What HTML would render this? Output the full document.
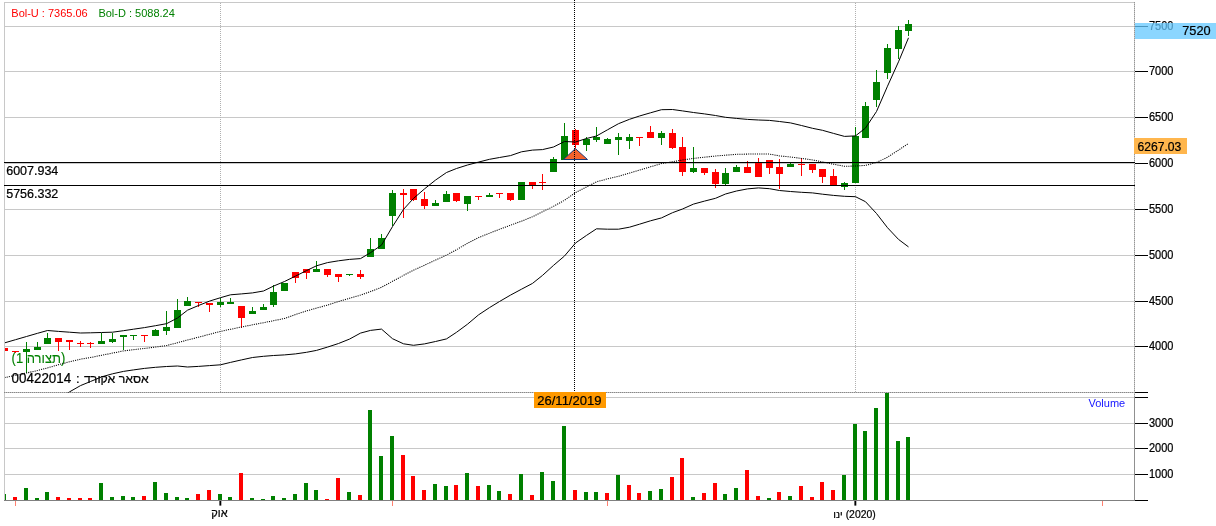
<!DOCTYPE html>
<html lang="he"><head><meta charset="utf-8"><title>Chart</title>
<style>
html,body{margin:0;padding:0;background:#fff;}
body{width:1216px;height:526px;overflow:hidden;position:relative;font-family:'Liberation Sans', sans-serif;}
svg{position:absolute;left:0;top:0;display:block;}
svg text{font-family:'Liberation Sans', sans-serif;}
svg text[fill="#000"],#axis text{stroke:#000;stroke-width:0.22px;}
.cr{shape-rendering:crispEdges;}
</style></head><body>
<svg width="1216" height="526" viewBox="0 0 1216 526">
<defs><clipPath id="mainclip"><rect x="5" y="3" width="1129" height="389.5"/></clipPath></defs>
<g id="grid">
<rect class="cr" x="4" y="26" width="1130" height="1" fill="#c8c8c8"/>
<rect class="cr" x="4" y="71" width="1130" height="1" fill="#c8c8c8"/>
<rect class="cr" x="4" y="117" width="1130" height="1" fill="#c8c8c8"/>
<rect class="cr" x="4" y="163" width="1130" height="1" fill="#c8c8c8"/>
<rect class="cr" x="4" y="209" width="1130" height="1" fill="#c8c8c8"/>
<rect class="cr" x="4" y="255" width="1130" height="1" fill="#c8c8c8"/>
<rect class="cr" x="4" y="301" width="1130" height="1" fill="#c8c8c8"/>
<rect class="cr" x="4" y="346" width="1130" height="1" fill="#c8c8c8"/>
<rect class="cr" x="4" y="423" width="1130" height="1" fill="#c8c8c8"/>
<rect class="cr" x="4" y="448" width="1130" height="1" fill="#c8c8c8"/>
<rect class="cr" x="4" y="474" width="1130" height="1" fill="#c8c8c8"/>
<rect class="cr" x="4" y="2" width="1131" height="1" fill="#c8c8c8"/>
<rect class="cr" x="4" y="2" width="1" height="499" fill="#c8c8c8"/>
<rect class="cr" x="4" y="397" width="1130" height="1" fill="#c8c8c8"/>
<line class="cr" x1="220.5" y1="3" x2="220.5" y2="392" stroke="#b0b0b0" stroke-width="1" stroke-dasharray="1 1"/>
<line class="cr" x1="855.5" y1="3" x2="855.5" y2="392" stroke="#b0b0b0" stroke-width="1" stroke-dasharray="1 1"/>
<rect class="cr" x="4" y="392" width="1130" height="1" fill="#c0c0c0"/>
<line class="cr" x1="4" y1="392.5" x2="1134" y2="392.5" stroke="#888888" stroke-width="1" stroke-dasharray="1 1"/>
<rect class="cr" x="1134" y="2" width="1" height="395" fill="#c8c8c8"/>
<line class="cr" x1="1134.5" y1="2" x2="1134.5" y2="397" stroke="#969696" stroke-width="1" stroke-dasharray="1 1"/>
<rect class="cr" x="1134" y="397" width="1" height="104" fill="#909090"/>
</g>
<g id="axis" font-size="11" fill="#000">
<rect class="cr" x="1135" y="26" width="13" height="1" fill="#000"/>
<text transform="translate(1149,29.9) scale(1,1.1)">7500</text>
<rect class="cr" x="1135" y="71" width="13" height="1" fill="#000"/>
<text transform="translate(1149,74.9) scale(1,1.1)">7000</text>
<rect class="cr" x="1135" y="117" width="13" height="1" fill="#000"/>
<text transform="translate(1149,120.9) scale(1,1.1)">6500</text>
<rect class="cr" x="1135" y="163" width="13" height="1" fill="#000"/>
<text transform="translate(1149,166.9) scale(1,1.1)">6000</text>
<rect class="cr" x="1135" y="209" width="13" height="1" fill="#000"/>
<text transform="translate(1149,212.9) scale(1,1.1)">5500</text>
<rect class="cr" x="1135" y="255" width="13" height="1" fill="#000"/>
<text transform="translate(1149,258.9) scale(1,1.1)">5000</text>
<rect class="cr" x="1135" y="301" width="13" height="1" fill="#000"/>
<text transform="translate(1149,304.9) scale(1,1.1)">4500</text>
<rect class="cr" x="1135" y="346" width="13" height="1" fill="#000"/>
<text transform="translate(1149,349.9) scale(1,1.1)">4000</text>
<rect class="cr" x="1135" y="423" width="13" height="1" fill="#000"/>
<text transform="translate(1149,426.9) scale(1,1.1)">3000</text>
<rect class="cr" x="1135" y="448" width="13" height="1" fill="#000"/>
<text transform="translate(1149,451.9) scale(1,1.1)">2000</text>
<rect class="cr" x="1135" y="474" width="13" height="1" fill="#000"/>
<text transform="translate(1149,477.9) scale(1,1.1)">1000</text>
<rect class="cr" x="1135" y="392" width="13" height="1" fill="#000"/>
<rect class="cr" x="1135" y="397" width="13" height="1" fill="#000"/>
<rect class="cr" x="1135" y="500" width="13" height="1" fill="#000"/>
</g>
<text x="6.2" y="175" font-size="12.5" fill="#000">6007.934</text>
<text x="6.2" y="198" font-size="12.5" fill="#000">5756.332</text>
<text transform="translate(11.6,362.7) scale(1,1.06)" font-size="13" fill="#008000" stroke="#008000" stroke-width="0.1" direction="rtl" unicode-bidi="embed" text-anchor="end">(תצורה 1)</text>
<text transform="translate(11.6,382.6) scale(1,1.08)" font-size="13.4" fill="#000">00422014</text>
<text x="76" y="382.6" font-size="13" fill="#000">:</text>
<text x="84" y="382.6" font-size="12.3" fill="#000" direction="rtl" unicode-bidi="embed" text-anchor="end">אסאר אקורד</text>
<g id="candles" class="cr">
<rect x="5" y="348" width="3" height="3" fill="#ff0000"/>
<rect x="15" y="351" width="1" height="2" fill="#ff0000"/>
<rect x="12" y="351" width="7" height="1" fill="#ff0000"/>
<rect x="26" y="342" width="1" height="31" fill="#008000"/>
<rect x="23" y="349" width="7" height="3" fill="#008000"/>
<rect x="37" y="342" width="1" height="8" fill="#008000"/>
<rect x="34" y="347" width="7" height="3" fill="#008000"/>
<rect x="47" y="333" width="1" height="11" fill="#008000"/>
<rect x="44" y="338" width="7" height="6" fill="#008000"/>
<rect x="58" y="338" width="1" height="13" fill="#ff0000"/>
<rect x="55" y="338" width="7" height="4" fill="#ff0000"/>
<rect x="69" y="340" width="1" height="10" fill="#ff0000"/>
<rect x="66" y="340" width="7" height="2" fill="#ff0000"/>
<rect x="80" y="341" width="1" height="6" fill="#ff0000"/>
<rect x="77" y="343" width="7" height="1" fill="#ff0000"/>
<rect x="90" y="342" width="1" height="6" fill="#ff0000"/>
<rect x="87" y="343" width="7" height="1" fill="#ff0000"/>
<rect x="101" y="333" width="1" height="11" fill="#008000"/>
<rect x="98" y="341" width="7" height="3" fill="#008000"/>
<rect x="112" y="333" width="1" height="10" fill="#008000"/>
<rect x="109" y="339" width="7" height="3" fill="#008000"/>
<rect x="123" y="335" width="1" height="15" fill="#008000"/>
<rect x="120" y="335" width="7" height="2" fill="#008000"/>
<rect x="133" y="335" width="1" height="5" fill="#008000"/>
<rect x="130" y="335" width="7" height="1" fill="#008000"/>
<rect x="144" y="335" width="1" height="7" fill="#ff0000"/>
<rect x="141" y="335" width="7" height="1" fill="#ff0000"/>
<rect x="155" y="329" width="1" height="7" fill="#008000"/>
<rect x="152" y="330" width="7" height="6" fill="#008000"/>
<rect x="166" y="311" width="1" height="24" fill="#008000"/>
<rect x="163" y="327" width="7" height="4" fill="#008000"/>
<rect x="177" y="299" width="1" height="29" fill="#008000"/>
<rect x="174" y="310" width="7" height="18" fill="#008000"/>
<rect x="187" y="297" width="1" height="9" fill="#008000"/>
<rect x="184" y="301" width="7" height="5" fill="#008000"/>
<rect x="198" y="302" width="1" height="5" fill="#ff0000"/>
<rect x="195" y="302" width="7" height="1" fill="#ff0000"/>
<rect x="209" y="303" width="1" height="9" fill="#ff0000"/>
<rect x="206" y="303" width="7" height="2" fill="#ff0000"/>
<rect x="220" y="298" width="1" height="9" fill="#008000"/>
<rect x="217" y="302" width="7" height="3" fill="#008000"/>
<rect x="230" y="298" width="1" height="6" fill="#008000"/>
<rect x="227" y="302" width="7" height="2" fill="#008000"/>
<rect x="241" y="306" width="1" height="22" fill="#ff0000"/>
<rect x="238" y="306" width="7" height="12" fill="#ff0000"/>
<rect x="252" y="307" width="1" height="7" fill="#008000"/>
<rect x="249" y="311" width="7" height="3" fill="#008000"/>
<rect x="263" y="304" width="1" height="6" fill="#008000"/>
<rect x="260" y="307" width="7" height="3" fill="#008000"/>
<rect x="273" y="285" width="1" height="22" fill="#008000"/>
<rect x="270" y="292" width="7" height="13" fill="#008000"/>
<rect x="281" y="283" width="7" height="8" fill="#008000"/>
<rect x="295" y="272" width="1" height="11" fill="#ff0000"/>
<rect x="292" y="272" width="7" height="6" fill="#ff0000"/>
<rect x="306" y="269" width="1" height="10" fill="#ff0000"/>
<rect x="303" y="269" width="7" height="4" fill="#ff0000"/>
<rect x="316" y="261" width="1" height="11" fill="#008000"/>
<rect x="313" y="269" width="7" height="3" fill="#008000"/>
<rect x="327" y="269" width="1" height="8" fill="#ff0000"/>
<rect x="324" y="269" width="7" height="6" fill="#ff0000"/>
<rect x="338" y="274" width="1" height="8" fill="#ff0000"/>
<rect x="335" y="274" width="7" height="3" fill="#ff0000"/>
<rect x="349" y="274" width="1" height="2" fill="#008000"/>
<rect x="346" y="274" width="7" height="1" fill="#008000"/>
<rect x="360" y="270" width="1" height="9" fill="#ff0000"/>
<rect x="357" y="274" width="7" height="3" fill="#ff0000"/>
<rect x="370" y="238" width="1" height="19" fill="#008000"/>
<rect x="367" y="249" width="7" height="8" fill="#008000"/>
<rect x="381" y="234" width="1" height="15" fill="#008000"/>
<rect x="378" y="238" width="7" height="11" fill="#008000"/>
<rect x="392" y="190" width="1" height="36" fill="#008000"/>
<rect x="389" y="193" width="7" height="23" fill="#008000"/>
<rect x="403" y="189" width="1" height="29" fill="#ff0000"/>
<rect x="400" y="193" width="7" height="2" fill="#ff0000"/>
<rect x="413" y="189" width="1" height="12" fill="#ff0000"/>
<rect x="410" y="189" width="7" height="11" fill="#ff0000"/>
<rect x="424" y="192" width="1" height="17" fill="#ff0000"/>
<rect x="421" y="199" width="7" height="7" fill="#ff0000"/>
<rect x="435" y="200" width="1" height="6" fill="#008000"/>
<rect x="432" y="203" width="7" height="3" fill="#008000"/>
<rect x="446" y="191" width="1" height="11" fill="#008000"/>
<rect x="443" y="194" width="7" height="8" fill="#008000"/>
<rect x="456" y="193" width="1" height="9" fill="#ff0000"/>
<rect x="453" y="193" width="7" height="8" fill="#ff0000"/>
<rect x="467" y="196" width="1" height="15" fill="#008000"/>
<rect x="464" y="196" width="7" height="8" fill="#008000"/>
<rect x="478" y="196" width="1" height="4" fill="#ff0000"/>
<rect x="475" y="196" width="7" height="1" fill="#ff0000"/>
<rect x="489" y="193" width="1" height="4" fill="#008000"/>
<rect x="486" y="195" width="7" height="2" fill="#008000"/>
<rect x="499" y="193" width="1" height="5" fill="#ff0000"/>
<rect x="496" y="193" width="7" height="1" fill="#ff0000"/>
<rect x="510" y="193" width="1" height="8" fill="#ff0000"/>
<rect x="507" y="193" width="7" height="7" fill="#ff0000"/>
<rect x="518" y="182" width="7" height="18" fill="#008000"/>
<rect x="532" y="182" width="1" height="7" fill="#ff0000"/>
<rect x="529" y="182" width="7" height="4" fill="#ff0000"/>
<rect x="542" y="174" width="1" height="16" fill="#ff0000"/>
<rect x="539" y="182" width="7" height="1" fill="#ff0000"/>
<rect x="553" y="157" width="1" height="15" fill="#008000"/>
<rect x="550" y="159" width="7" height="13" fill="#008000"/>
<rect x="564" y="123" width="1" height="37" fill="#008000"/>
<rect x="561" y="136" width="7" height="24" fill="#008000"/>
<rect x="575" y="129" width="1" height="19" fill="#ff0000"/>
<rect x="572" y="130" width="7" height="15" fill="#ff0000"/>
<rect x="586" y="137" width="1" height="14" fill="#008000"/>
<rect x="583" y="139" width="7" height="6" fill="#008000"/>
<rect x="596" y="127" width="1" height="15" fill="#008000"/>
<rect x="593" y="137" width="7" height="3" fill="#008000"/>
<rect x="607" y="138" width="1" height="6" fill="#008000"/>
<rect x="604" y="139" width="7" height="5" fill="#008000"/>
<rect x="618" y="133" width="1" height="22" fill="#008000"/>
<rect x="615" y="137" width="7" height="3" fill="#008000"/>
<rect x="629" y="134" width="1" height="15" fill="#008000"/>
<rect x="626" y="137" width="7" height="4" fill="#008000"/>
<rect x="639" y="137" width="1" height="9" fill="#ff0000"/>
<rect x="636" y="137" width="7" height="1" fill="#ff0000"/>
<rect x="650" y="126" width="1" height="12" fill="#ff0000"/>
<rect x="647" y="132" width="7" height="6" fill="#ff0000"/>
<rect x="661" y="131" width="1" height="14" fill="#008000"/>
<rect x="658" y="133" width="7" height="5" fill="#008000"/>
<rect x="672" y="129" width="1" height="20" fill="#ff0000"/>
<rect x="669" y="133" width="7" height="15" fill="#ff0000"/>
<rect x="682" y="137" width="1" height="39" fill="#ff0000"/>
<rect x="679" y="147" width="7" height="25" fill="#ff0000"/>
<rect x="693" y="147" width="1" height="26" fill="#008000"/>
<rect x="690" y="168" width="7" height="4" fill="#008000"/>
<rect x="704" y="168" width="1" height="7" fill="#ff0000"/>
<rect x="701" y="168" width="7" height="5" fill="#ff0000"/>
<rect x="715" y="169" width="1" height="19" fill="#ff0000"/>
<rect x="712" y="172" width="7" height="12" fill="#ff0000"/>
<rect x="725" y="168" width="1" height="18" fill="#008000"/>
<rect x="722" y="173" width="7" height="11" fill="#008000"/>
<rect x="736" y="165" width="1" height="7" fill="#008000"/>
<rect x="733" y="167" width="7" height="5" fill="#008000"/>
<rect x="747" y="161" width="1" height="12" fill="#ff0000"/>
<rect x="744" y="167" width="7" height="6" fill="#ff0000"/>
<rect x="758" y="158" width="1" height="19" fill="#ff0000"/>
<rect x="755" y="163" width="7" height="14" fill="#ff0000"/>
<rect x="769" y="160" width="1" height="14" fill="#ff0000"/>
<rect x="766" y="160" width="7" height="8" fill="#ff0000"/>
<rect x="779" y="159" width="1" height="30" fill="#ff0000"/>
<rect x="776" y="167" width="7" height="7" fill="#ff0000"/>
<rect x="790" y="163" width="1" height="4" fill="#008000"/>
<rect x="787" y="164" width="7" height="3" fill="#008000"/>
<rect x="801" y="158" width="1" height="18" fill="#ff0000"/>
<rect x="798" y="164" width="7" height="1" fill="#ff0000"/>
<rect x="812" y="164" width="1" height="9" fill="#ff0000"/>
<rect x="809" y="164" width="7" height="6" fill="#ff0000"/>
<rect x="822" y="169" width="1" height="14" fill="#ff0000"/>
<rect x="819" y="169" width="7" height="8" fill="#ff0000"/>
<rect x="833" y="169" width="1" height="16" fill="#ff0000"/>
<rect x="830" y="176" width="7" height="9" fill="#ff0000"/>
<rect x="844" y="182" width="1" height="8" fill="#008000"/>
<rect x="841" y="183" width="7" height="4" fill="#008000"/>
<rect x="855" y="127" width="1" height="56" fill="#008000"/>
<rect x="852" y="136" width="7" height="47" fill="#008000"/>
<rect x="865" y="102" width="1" height="36" fill="#008000"/>
<rect x="862" y="106" width="7" height="32" fill="#008000"/>
<rect x="876" y="70" width="1" height="37" fill="#008000"/>
<rect x="873" y="82" width="7" height="18" fill="#008000"/>
<rect x="887" y="44" width="1" height="35" fill="#008000"/>
<rect x="884" y="48" width="7" height="25" fill="#008000"/>
<rect x="898" y="26" width="1" height="33" fill="#008000"/>
<rect x="895" y="30" width="7" height="19" fill="#008000"/>
<rect x="908" y="20" width="1" height="16" fill="#008000"/>
<rect x="905" y="24" width="7" height="7" fill="#008000"/>
</g>
<g clip-path="url(#mainclip)" fill="none" stroke="#000" stroke-linejoin="round">
<polyline points="4.5,342.9 15.5,339.7 26.5,336.5 37.5,333.3 47.5,330.5 58.5,331.4 69.5,332.2 80.5,333.0 90.5,332.8 101.5,332.5 112.5,332.2 123.5,330.7 133.5,329.2 144.5,327.6 155.5,325.7 166.5,323.7 177.5,318.0 187.5,310.2 198.5,305.5 209.5,301.1 220.5,297.7 230.5,294.8 241.5,293.9 252.5,292.9 263.5,291.0 273.5,286.1 284.5,281.5 295.5,276.1 306.5,270.6 316.5,265.8 327.5,262.6 338.5,260.8 349.5,259.4 360.5,258.6 370.5,252.7 381.5,245.1 392.5,226.6 403.5,209.4 413.5,198.4 424.5,188.9 435.5,180.1 446.5,172.5 456.5,168.5 467.5,165.0 478.5,162.1 489.5,159.3 499.5,157.5 510.5,155.6 521.5,151.8 532.5,150.1 542.5,149.6 553.5,147.0 564.5,141.5 575.5,142.0 586.5,138.5 596.5,136.0 607.5,129.8 618.5,123.7 629.5,119.3 639.5,116.0 650.5,112.8 661.5,109.7 672.5,109.5 682.5,110.9 693.5,112.5 704.5,113.9 715.5,115.5 725.5,117.3 736.5,118.4 747.5,119.4 758.5,120.0 769.5,120.4 779.5,121.5 790.5,122.9 801.5,125.5 812.5,128.3 822.5,130.3 833.5,133.4 844.5,136.4 855.5,135.9 865.5,128.0 876.5,111.5 887.5,86.2 898.5,61.8 908.5,37.8" stroke-width="1"/>
<polyline points="47.5,404.6 58.5,398.3 69.5,391.9 80.5,385.6 90.5,381.5 101.5,376.9 112.5,373.8 123.5,371.4 133.5,369.9 144.5,368.4 155.5,367.3 166.5,366.5 177.5,366.0 187.5,367.0 198.5,366.4 209.5,365.6 220.5,364.8 230.5,362.4 241.5,359.9 252.5,357.5 263.5,356.3 273.5,355.5 284.5,354.9 295.5,353.9 306.5,352.3 316.5,350.4 327.5,347.1 338.5,343.5 349.5,339.1 360.5,333.1 370.5,330.4 381.5,329.1 392.5,338.7 403.5,343.8 413.5,345.3 424.5,343.9 435.5,341.5 446.5,338.9 456.5,332.3 467.5,324.2 478.5,314.9 489.5,307.6 499.5,301.5 510.5,295.1 521.5,289.2 532.5,283.4 542.5,275.4 553.5,265.4 564.5,256.0 575.5,243.0 586.5,235.4 596.5,228.8 607.5,229.2 618.5,229.2 629.5,227.2 639.5,224.2 650.5,220.8 661.5,217.9 672.5,212.7 682.5,209.0 693.5,204.1 704.5,201.1 715.5,198.3 725.5,194.0 736.5,191.0 747.5,188.9 758.5,187.9 769.5,188.7 779.5,190.5 790.5,191.5 801.5,192.3 812.5,192.9 822.5,194.2 833.5,195.4 844.5,196.3 855.5,196.7 865.5,201.7 876.5,213.5 887.5,227.7 898.5,239.4 908.5,246.9" stroke-width="1"/>
<polyline points="4.5,377.6 15.5,375.3 26.5,373.0 37.5,370.5 47.5,367.9 58.5,364.7 69.5,361.8 80.5,359.2 90.5,357.5 101.5,355.3 112.5,353.1 123.5,350.9 133.5,349.7 144.5,348.4 155.5,347.1 166.5,345.6 177.5,342.7 187.5,340.0 198.5,337.2 209.5,334.3 220.5,331.4 230.5,329.3 241.5,327.0 252.5,324.8 263.5,322.7 273.5,320.7 284.5,318.5 295.5,314.5 306.5,310.9 316.5,308.1 327.5,305.1 338.5,301.5 349.5,298.3 360.5,295.1 370.5,291.6 381.5,287.3 392.5,281.3 403.5,275.4 413.5,270.2 424.5,265.2 435.5,260.1 446.5,255.1 456.5,249.7 467.5,243.3 478.5,237.6 489.5,233.2 499.5,229.3 510.5,225.2 521.5,221.2 532.5,216.7 542.5,211.8 553.5,206.3 564.5,200.3 575.5,192.6 586.5,186.9 596.5,181.8 607.5,178.9 618.5,176.3 629.5,173.1 639.5,170.1 650.5,166.8 661.5,163.6 672.5,161.7 682.5,160.0 693.5,158.4 704.5,157.2 715.5,156.0 725.5,155.2 736.5,154.3 747.5,154.1 758.5,153.9 769.5,154.1 779.5,155.9 790.5,157.0 801.5,158.4 812.5,159.9 822.5,161.9 833.5,164.2 844.5,166.3 855.5,166.0 865.5,165.4 876.5,162.5 887.5,157.2 898.5,150.1 908.5,143.5" stroke-width="1.05" stroke-dasharray="1.1 1.1"/>
</g>
<rect class="cr" x="4" y="162" width="1131" height="1" fill="#000"/>
<rect class="cr" x="4" y="185" width="1131" height="1" fill="#000"/>
<polygon points="563.5,159.5 575.4,148.6 587.5,159.5" fill="#f4622d" stroke="#1c3a7a" stroke-width="1"/>
<line class="cr" x1="574.5" y1="0" x2="574.5" y2="392" stroke="#000" stroke-width="1" stroke-dasharray="1 1"/>
<g id="volume" class="cr">
<rect x="5" y="494" width="1" height="6" fill="#008000"/>
<rect x="13" y="497" width="4" height="3" fill="#ff0000"/>
<rect x="24" y="488" width="4" height="12" fill="#008000"/>
<rect x="35" y="498" width="4" height="2" fill="#008000"/>
<rect x="45" y="492" width="4" height="8" fill="#008000"/>
<rect x="56" y="497" width="4" height="3" fill="#ff0000"/>
<rect x="67" y="498" width="4" height="2" fill="#ff0000"/>
<rect x="78" y="498" width="4" height="2" fill="#ff0000"/>
<rect x="88" y="498" width="4" height="2" fill="#ff0000"/>
<rect x="99" y="483" width="4" height="17" fill="#008000"/>
<rect x="110" y="497" width="4" height="3" fill="#008000"/>
<rect x="121" y="496" width="4" height="4" fill="#008000"/>
<rect x="131" y="497" width="4" height="3" fill="#008000"/>
<rect x="142" y="496" width="4" height="4" fill="#ff0000"/>
<rect x="153" y="482" width="4" height="18" fill="#008000"/>
<rect x="164" y="493" width="4" height="7" fill="#008000"/>
<rect x="175" y="497" width="4" height="3" fill="#008000"/>
<rect x="185" y="498" width="4" height="2" fill="#008000"/>
<rect x="196" y="494" width="4" height="6" fill="#ff0000"/>
<rect x="207" y="490" width="4" height="10" fill="#ff0000"/>
<rect x="218" y="494" width="4" height="6" fill="#008000"/>
<rect x="228" y="497" width="4" height="3" fill="#008000"/>
<rect x="239" y="473" width="4" height="27" fill="#ff0000"/>
<rect x="250" y="498" width="4" height="2" fill="#008000"/>
<rect x="261" y="499" width="4" height="1" fill="#008000"/>
<rect x="271" y="496" width="4" height="4" fill="#008000"/>
<rect x="282" y="498" width="4" height="2" fill="#008000"/>
<rect x="293" y="494" width="4" height="6" fill="#008000"/>
<rect x="304" y="483" width="4" height="17" fill="#008000"/>
<rect x="314" y="490" width="4" height="10" fill="#008000"/>
<rect x="325" y="499" width="4" height="1" fill="#ff0000"/>
<rect x="336" y="478" width="4" height="22" fill="#ff0000"/>
<rect x="347" y="492" width="4" height="8" fill="#008000"/>
<rect x="358" y="495" width="4" height="5" fill="#ff0000"/>
<rect x="368" y="410" width="4" height="90" fill="#008000"/>
<rect x="379" y="456" width="4" height="44" fill="#008000"/>
<rect x="390" y="436" width="4" height="64" fill="#008000"/>
<rect x="401" y="455" width="4" height="45" fill="#ff0000"/>
<rect x="411" y="476" width="4" height="24" fill="#ff0000"/>
<rect x="422" y="490" width="4" height="10" fill="#ff0000"/>
<rect x="433" y="484" width="4" height="16" fill="#008000"/>
<rect x="444" y="486" width="4" height="14" fill="#008000"/>
<rect x="454" y="485" width="4" height="15" fill="#ff0000"/>
<rect x="465" y="473" width="4" height="27" fill="#008000"/>
<rect x="476" y="486" width="4" height="14" fill="#ff0000"/>
<rect x="487" y="485" width="4" height="15" fill="#008000"/>
<rect x="497" y="491" width="4" height="9" fill="#008000"/>
<rect x="508" y="494" width="4" height="6" fill="#ff0000"/>
<rect x="519" y="474" width="4" height="26" fill="#008000"/>
<rect x="530" y="495" width="4" height="5" fill="#ff0000"/>
<rect x="540" y="472" width="4" height="28" fill="#008000"/>
<rect x="551" y="481" width="4" height="19" fill="#008000"/>
<rect x="562" y="426" width="4" height="74" fill="#008000"/>
<rect x="573" y="490" width="4" height="10" fill="#ff0000"/>
<rect x="584" y="492" width="4" height="8" fill="#008000"/>
<rect x="594" y="492" width="4" height="8" fill="#008000"/>
<rect x="605" y="493" width="4" height="7" fill="#ff0000"/>
<rect x="616" y="475" width="4" height="25" fill="#008000"/>
<rect x="627" y="485" width="4" height="15" fill="#ff0000"/>
<rect x="637" y="493" width="4" height="7" fill="#ff0000"/>
<rect x="648" y="491" width="4" height="9" fill="#008000"/>
<rect x="659" y="489" width="4" height="11" fill="#008000"/>
<rect x="670" y="477" width="4" height="23" fill="#ff0000"/>
<rect x="680" y="458" width="4" height="42" fill="#ff0000"/>
<rect x="691" y="497" width="4" height="3" fill="#008000"/>
<rect x="702" y="493" width="4" height="7" fill="#ff0000"/>
<rect x="713" y="483" width="4" height="17" fill="#ff0000"/>
<rect x="723" y="494" width="4" height="6" fill="#008000"/>
<rect x="734" y="488" width="4" height="12" fill="#008000"/>
<rect x="745" y="470" width="4" height="30" fill="#ff0000"/>
<rect x="756" y="496" width="4" height="4" fill="#ff0000"/>
<rect x="767" y="498" width="4" height="2" fill="#008000"/>
<rect x="777" y="492" width="4" height="8" fill="#ff0000"/>
<rect x="788" y="496" width="4" height="4" fill="#008000"/>
<rect x="799" y="486" width="4" height="14" fill="#ff0000"/>
<rect x="810" y="497" width="4" height="3" fill="#ff0000"/>
<rect x="820" y="482" width="4" height="18" fill="#ff0000"/>
<rect x="831" y="490" width="4" height="10" fill="#ff0000"/>
<rect x="842" y="475" width="4" height="25" fill="#008000"/>
<rect x="853" y="424" width="4" height="76" fill="#008000"/>
<rect x="863" y="431" width="4" height="69" fill="#008000"/>
<rect x="874" y="408" width="4" height="92" fill="#008000"/>
<rect x="885" y="393" width="4" height="107" fill="#008000"/>
<rect x="896" y="441" width="4" height="59" fill="#008000"/>
<rect x="906" y="437" width="4" height="63" fill="#008000"/>
</g>
<rect class="cr" x="4" y="500" width="1131" height="1" fill="#808080"/>
<rect class="cr" x="15" y="501" width="1" height="5" fill="#ff8070"/>
<rect class="cr" x="392" y="501" width="1" height="5" fill="#ff8070"/>
<rect class="cr" x="607" y="501" width="1" height="5" fill="#ff8070"/>
<rect class="cr" x="1102" y="501" width="1" height="5" fill="#ff8070"/>
<rect x="219.4" y="501" width="1.9" height="4.6" fill="#000"/>
<rect x="854.4" y="501" width="1.9" height="4.6" fill="#000"/>
<text x="219.5" y="517.3" font-size="11" text-anchor="middle" fill="#000">אוק</text>
<text x="854.5" y="517.8" font-size="10.4" text-anchor="middle" fill="#000">ינו&#x200E; (2020)</text>
<text x="11.3" y="17" font-size="11" fill="#ff0000">Bol-U : 7365.06</text>
<text x="98.4" y="17" font-size="11" fill="#008000">Bol-D : 5088.24</text>
<text x="1088.5" y="407" font-size="11" fill="#1414ff">Volume</text>
<rect class="cr" x="534" y="392" width="72" height="16" fill="#ff9900"/>
<text x="537.3" y="405" font-size="13" fill="#000">26/11/2019</text>
<rect class="cr" x="1134" y="138" width="53" height="16" fill="#ffb64d"/>
<text transform="translate(1137.4,150.6) scale(0.935,1)" font-size="13" fill="#000">6267.03</text>
<rect class="cr" x="1135" y="23" width="81" height="16" fill="rgb(100,200,255)" fill-opacity="0.75"/>
<text transform="translate(1182.2,34.6) scale(0.96,1)" font-size="13.3" fill="#000">7520</text>
</svg>
</body></html>
